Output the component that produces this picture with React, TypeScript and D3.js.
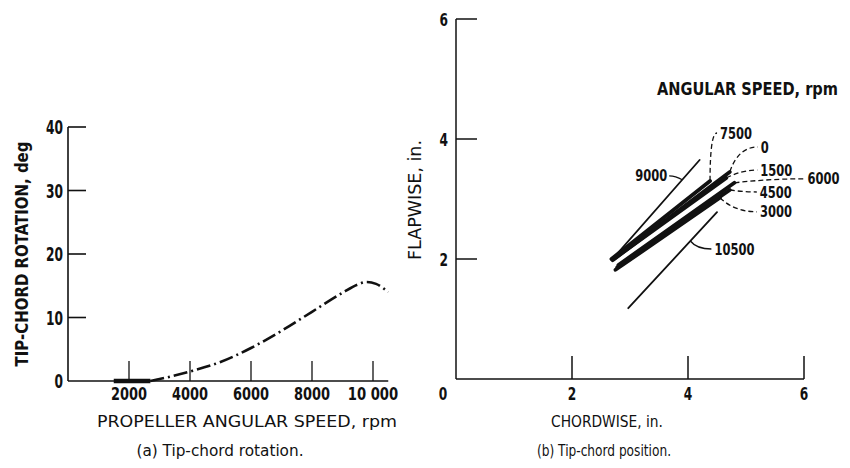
import React, { useEffect } from 'react';
import * as d3 from 'd3';

// (a) tip-chord rotation vs propeller angular speed
const rotSpeed = [1500, 2700, 3000, 4000, 5000, 6000, 7000, 8000, 9000, 9500, 9800, 10100, 10500];
const rotDeg = [0, 0, 0.3, 1.5, 3.0, 5.2, 7.9, 10.9, 13.9, 15.2, 15.6, 15.3, 14.0];
const rotFlatEnd = 2700; // bold part lying on the axis
const rotXTicks = [2000, 4000, 6000, 8000, 10000];
const rotXTickLabels = ['2000', '4000', '6000', '8000', '10 000'];
const rotYTicks = [0, 10, 20, 30, 40];

// (b) tip-chord position, one line per angular speed
const speeds = ['0', '1500', '3000', '4500', '6000', '7500', '9000', '10500'];
const chordStart = [2.7, 2.72, 2.75, 2.78, 2.8, 2.68, 2.7, 2.97];
const chordEnd = [4.72, 4.66, 4.55, 4.72, 4.8, 4.38, 4.2, 4.5];
const flapStart = [1.98, 2.0, 1.82, 1.86, 1.9, 2.0, 2.0, 1.18];
const flapEnd = [3.45, 3.35, 3.02, 3.15, 3.27, 3.3, 3.65, 2.78];
const boldSpeeds = ['0', '1500', '3000', '4500', '6000', '7500'];
const posTicks = [2, 4, 6];

// leader layout: where along the line it attaches, pixel offset of label, curve bend
const leaders = [
  { speed: '7500', t: 1, dx: 7, dy: -48, k: 0, dashed: true, anchor: 'start' },
  { speed: '0', t: 1, dx: 28, dy: -25, k: 0.3, dashed: true, anchor: 'start' },
  { speed: '1500', t: 1, dx: 31, dy: -8, k: 0.5, dashed: true, anchor: 'start' },
  { speed: '6000', t: 1, dx: 70, dy: -4, k: 0.5, dashed: true, anchor: 'start' },
  { speed: '4500', t: 1, dx: 27, dy: 2, k: 0.5, dashed: true, anchor: 'start' },
  { speed: '3000', t: 1, dx: 37, dy: 14, k: 0.4, dashed: true, anchor: 'start' },
  { speed: '10500', t: 0.7, dx: 21, dy: 8, k: 0.3, dashed: false, anchor: 'start' },
  { speed: '9000', t: 0.8, dx: -13, dy: -4, k: 0.5, dashed: false, anchor: 'end' },
];

const FONT = '"Liberation Sans Narrow", "DejaVu Sans Condensed", "Liberation Sans", sans-serif';

// the original lettering is condensed; squeeze digits to this width each
const digitW = (s: string, w: number) => s.replace(/ /g, '').length * w + (s.includes(' ') ? w * 0.6 : 0);

const App = () => {
  useEffect(() => {
    document.body.style.margin = '0';
  }, []);

  // scales for (a)
  const xa = d3.scaleLinear().domain([0, 10000]).range([68, 373]);
  const ya = d3.scaleLinear().domain([0, 40]).range([381, 127]);
  // scales for (b)
  const xb = d3.scaleLinear().domain([0, 6]).range([456, 804]);
  const yb = d3.scaleLinear().domain([0, 6]).range([379, 19]);

  const rotPts = rotSpeed.map((s, i) => [s, rotDeg[i]] as [number, number]);
  const lineA = d3
    .line<[number, number]>()
    .x((d) => xa(d[0]))
    .y((d) => ya(d[1]))
    .curve(d3.curveMonotoneX);
  const flat = rotPts.filter((d) => d[0] <= rotFlatEnd);
  const rising = rotPts.filter((d) => d[0] >= rotFlatEnd);

  const lineB = d3
    .line<[number, number]>()
    .x((d) => xb(d[0]))
    .y((d) => yb(d[1]));

  const seg = (i: number) =>
    [
      [chordStart[i], flapStart[i]],
      [chordEnd[i], flapEnd[i]],
    ] as [number, number][];

  return (
    <svg width={850} height={468} style={{ display: 'block', background: '#fff' }} fontFamily={FONT}>
      {/* ---------- (a) ---------- */}
      <g stroke="#111" fill="none">
        <line x1={xa(0)} x2={xa(0)} y1={ya(0)} y2={ya(40)} strokeWidth={1.6} />
        <line x1={xa(0)} x2={xa(10500)} y1={ya(0)} y2={ya(0)} strokeWidth={1.3} />
        {rotYTicks.slice(1).map((t) => (
          <line key={t} x1={xa(0)} x2={xa(0) + 18} y1={ya(t)} y2={ya(t)} strokeWidth={1.6} />
        ))}
        {rotXTicks.map((t) => (
          <line key={t} x1={xa(t)} x2={xa(t)} y1={ya(0)} y2={ya(0) - 20} strokeWidth={1.3} />
        ))}
        <path d={lineA(flat) || ''} strokeWidth={4.5} />
        <path d={lineA(rising) || ''} strokeWidth={2.6} strokeDasharray="14 4 2 4" />
      </g>
      <g fontWeight="bold" fontSize={19} fill="#111">
        {rotYTicks.map((t) => (
          <text
            key={t}
            x={63}
            y={ya(t)}
            textAnchor="end"
            dominantBaseline="central"
            textLength={digitW(String(t), 8.5)}
            lengthAdjust="spacingAndGlyphs"
          >
            {t}
          </text>
        ))}
      </g>
      <g fontSize={18} fill="#111" fontWeight="bold">
        {rotXTicks.map((t, i) => (
          <text
            key={t}
            x={xa(t)}
            y={400}
            textAnchor="middle"
            textLength={digitW(rotXTickLabels[i], 9)}
            lengthAdjust="spacingAndGlyphs"
          >
            {rotXTickLabels[i]}
          </text>
        ))}
      </g>
      <text
        transform="translate(28,254) rotate(-90)"
        textAnchor="middle"
        fontSize={18}
        fontWeight="bold"
        textLength={225}
        lengthAdjust="spacingAndGlyphs"
        fill="#111"
      >
        TIP-CHORD ROTATION, deg
      </text>
      <text x={247} y={427} textAnchor="middle" fontSize={16} textLength={300} lengthAdjust="spacingAndGlyphs" fill="#111">
        PROPELLER ANGULAR SPEED, rpm
      </text>
      <text x={220} y={456} textAnchor="middle" fontSize={16} textLength={167} lengthAdjust="spacingAndGlyphs" fill="#111">
        (a) Tip-chord rotation.
      </text>

      {/* ---------- (b) ---------- */}
      <g stroke="#111" fill="none">
        <line x1={xb(0)} x2={xb(0)} y1={yb(0)} y2={yb(6)} strokeWidth={1.5} />
        <line x1={xb(0)} x2={xb(6)} y1={yb(0)} y2={yb(0)} strokeWidth={1.5} />
        {posTicks.map((t) => (
          <line key={'y' + t} x1={xb(0)} x2={xb(0) + 21} y1={yb(t)} y2={yb(t)} strokeWidth={1.5} />
        ))}
        {posTicks.map((t) => (
          <line key={'x' + t} x1={xb(t)} x2={xb(t)} y1={yb(0)} y2={yb(0) - 23} strokeWidth={1.5} />
        ))}
        {speeds.map((s, i) => (
          <path
            key={s}
            d={lineB(seg(i)) || ''}
            strokeWidth={boldSpeeds.includes(s) ? 3.8 : 1.8}
            strokeLinecap="round"
          />
        ))}
        {leaders.map((l) => {
          const i = speeds.indexOf(l.speed);
          const cx = chordStart[i] + (chordEnd[i] - chordStart[i]) * l.t;
          const cy = flapStart[i] + (flapEnd[i] - flapStart[i]) * l.t;
          const ax = xb(cx);
          const ay = yb(cy);
          const ex = ax + l.dx;
          const ey = ay + l.dy;
          const qx = ax + l.k * l.dx;
          return (
            <path
              key={l.speed}
              d={`M${ax},${ay} Q${qx},${ey} ${ex},${ey}`}
              strokeWidth={1.3}
              strokeDasharray={l.dashed ? '5 3' : undefined}
            />
          );
        })}
      </g>
      <g fontSize={16} fill="#111" fontWeight="600">
        {leaders.map((l) => {
          const i = speeds.indexOf(l.speed);
          const cx = chordStart[i] + (chordEnd[i] - chordStart[i]) * l.t;
          const cy = flapStart[i] + (flapEnd[i] - flapStart[i]) * l.t;
          const ex = xb(cx) + l.dx;
          const ey = yb(cy) + l.dy;
          return (
            <text
              key={l.speed}
              x={l.anchor === 'end' ? ex - 2 : ex + 3}
              y={ey}
              textAnchor={l.anchor}
              dominantBaseline="central"
              textLength={digitW(l.speed, 8)}
              lengthAdjust="spacingAndGlyphs"
            >
              {l.speed}
            </text>
          );
        })}
      </g>
      <text x={657} y={95} fontSize={17} fontWeight="600" textLength={181} lengthAdjust="spacingAndGlyphs" fill="#111">
        ANGULAR SPEED, rpm
      </text>
      <g fontSize={18} fontWeight="bold" fill="#111">
        {posTicks.map((t) => (
          <text
            key={'yl' + t}
            x={448}
            y={yb(t)}
            textAnchor="end"
            dominantBaseline="central"
            textLength={8.5}
            lengthAdjust="spacingAndGlyphs"
          >
            {t}
          </text>
        ))}
        <text x={443} y={400} textAnchor="middle" textLength={8.5} lengthAdjust="spacingAndGlyphs">
          0
        </text>
        {posTicks.map((t) => (
          <text key={'xl' + t} x={xb(t)} y={400} textAnchor="middle" textLength={8.5} lengthAdjust="spacingAndGlyphs">
            {t}
          </text>
        ))}
      </g>
      <text
        transform="translate(421,200) rotate(-90)"
        textAnchor="middle"
        fontSize={17}
        textLength={120}
        lengthAdjust="spacingAndGlyphs"
        fill="#111"
      >
        FLAPWISE, in.
      </text>
      <text x={607} y={427} textAnchor="middle" fontSize={16} textLength={112} lengthAdjust="spacingAndGlyphs" fill="#111">
        CHORDWISE, in.
      </text>
      <text x={604} y={456} textAnchor="middle" fontSize={16} textLength={134} lengthAdjust="spacingAndGlyphs" fill="#111">
        (b) Tip-chord position.
      </text>
    </svg>
  );
};

export default App;
